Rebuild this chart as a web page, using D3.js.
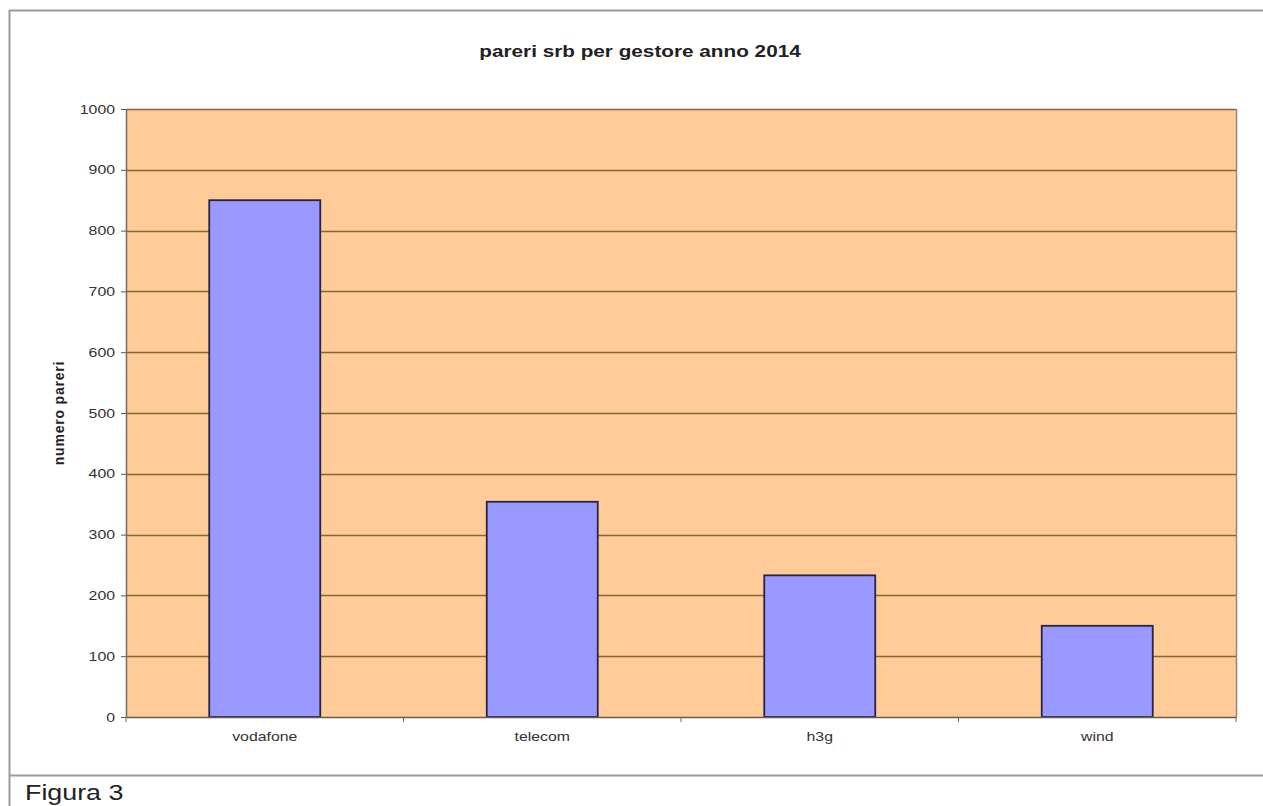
<!DOCTYPE html>
<html>
<head>
<meta charset="utf-8">
<script src="https://cdn.jsdelivr.net/npm/d3@7"></script>
<style>
  body { margin: 0; background: #fff; }
  text { font-family: Arial, "Liberation Sans", sans-serif; }
</style>
</head>
<body>
<div id="chart"></div>
<script>
const categories = ['vodafone', 'telecom', 'h3g', 'wind'];
const values = [850, 354, 233, 150];
const yTicks = [0, 100, 200, 300, 400, 500, 600, 700, 800, 900, 1000];
const title = 'pareri srb per gestore anno 2014';
const yTitle = 'numero pareri';
const caption = 'Figura 3';

const W = 1263, H = 806;
const plot = {left: 126, top: 109, right: 1236, bottom: 717};
const stretch = 1.22;   // the original picture is a bit wider than tall

const svg = d3.select('#chart').append('svg')
  .attr('width', W)
  .attr('height', H);

// outer frame
svg.append('line').attr('x1', 9.5).attr('x2', 9.5).attr('y1', 10).attr('y2', H)
  .attr('stroke', '#9a9a9a').attr('stroke-width', 2);
svg.append('line').attr('x1', 9).attr('x2', W).attr('y1', 10.5).attr('y2', 10.5)
  .attr('stroke', '#9a9a9a').attr('stroke-width', 2);
svg.append('line').attr('x1', 9).attr('x2', W).attr('y1', 775.5).attr('y2', 775.5)
  .attr('stroke', '#9a9a9a').attr('stroke-width', 2);

const x = d3.scaleBand()
  .domain(categories)
  .range([plot.left, plot.right])
  .paddingInner(0.6)
  .paddingOuter(0.3);

const y = d3.scaleLinear()
  .domain([0, 1000])
  .range([plot.bottom, plot.top]);

// plot background
svg.append('rect')
  .attr('x', plot.left).attr('y', plot.top)
  .attr('width', plot.right - plot.left).attr('height', plot.bottom - plot.top)
  .attr('fill', '#ffcc99');

// gridlines
svg.append('g').selectAll('line')
  .data(yTicks.filter(d => d > 0))
  .enter().append('line')
    .attr('x1', plot.left).attr('x2', plot.right)
    .attr('y1', d => Math.round(y(d)) + 0.5).attr('y2', d => Math.round(y(d)) + 0.5)
    .attr('stroke', '#85653a')
    .attr('stroke-width', 1.5);

// right border of plot
svg.append('line')
  .attr('x1', plot.right + 0.5).attr('x2', plot.right + 0.5)
  .attr('y1', plot.top).attr('y2', plot.bottom)
  .attr('stroke', '#a08866').attr('stroke-width', 1.5);

// bars
svg.append('g').selectAll('rect')
  .data(values)
  .enter().append('rect')
    .attr('x', (d, i) => x(categories[i]))
    .attr('y', d => y(d))
    .attr('width', x.bandwidth())
    .attr('height', d => plot.bottom - y(d))
    .attr('fill', '#9999ff')
    .attr('stroke', '#2b2440')
    .attr('stroke-width', 1.8);

// y axis
const yAxis = svg.append('g')
  .attr('transform', `translate(${plot.left},0)`)
  .call(d3.axisLeft(y).tickValues(yTicks).tickSize(5).tickSizeOuter(0).tickFormat(d3.format('d')));
yAxis.select('.domain').attr('stroke', '#7a6a5a').attr('stroke-width', 1.5);
yAxis.selectAll('.tick line').attr('stroke', '#555');
yAxis.selectAll('.tick text')
  .attr('x', -9)
  .attr('transform', `scale(${stretch},1)`)
  .style('font-size', '13px')
  .attr('fill', '#333');

// x axis
const xAxis = svg.append('g')
  .attr('transform', `translate(0,${plot.bottom})`)
  .call(d3.axisBottom(x).tickSize(0).tickSizeOuter(0));
xAxis.select('.domain').attr('stroke', '#6a5a4a').attr('stroke-width', 1.5);
xAxis.selectAll('.tick text')
  .attr('dy', '0')
  .attr('y', 24)
  .attr('transform', `scale(${stretch},1)`)
  .style('font-size', '13px')
  .attr('fill', '#333');

// ticks between categories
svg.append('g').selectAll('line')
  .data(d3.range(categories.length + 1))
  .enter().append('line')
    .attr('x1', i => plot.left + i * x.step())
    .attr('x2', i => plot.left + i * x.step())
    .attr('y1', plot.bottom)
    .attr('y2', plot.bottom + 5)
    .attr('stroke', '#666');

// title
svg.append('text')
  .attr('transform', `translate(640,57) scale(${stretch},1)`)
  .attr('text-anchor', 'middle')
  .style('font-size', '17px')
  .style('font-weight', 'bold')
  .attr('fill', '#222')
  .text(title);

// y title
svg.append('text')
  .attr('transform', `translate(64,${(plot.top + plot.bottom) / 2 - 0}) rotate(-90)`)
  .attr('text-anchor', 'middle')
  .style('font-size', '14px')
  .style('font-weight', 'bold')
  .style('letter-spacing', '0.8px')
  .attr('fill', '#222')
  .text(yTitle);

// caption
svg.append('text')
  .attr('transform', `translate(25,800) scale(${stretch},1)`)
  .style('font-size', '22px')
  .attr('fill', '#222')
  .text(caption);
</script>
</body>
</html>
